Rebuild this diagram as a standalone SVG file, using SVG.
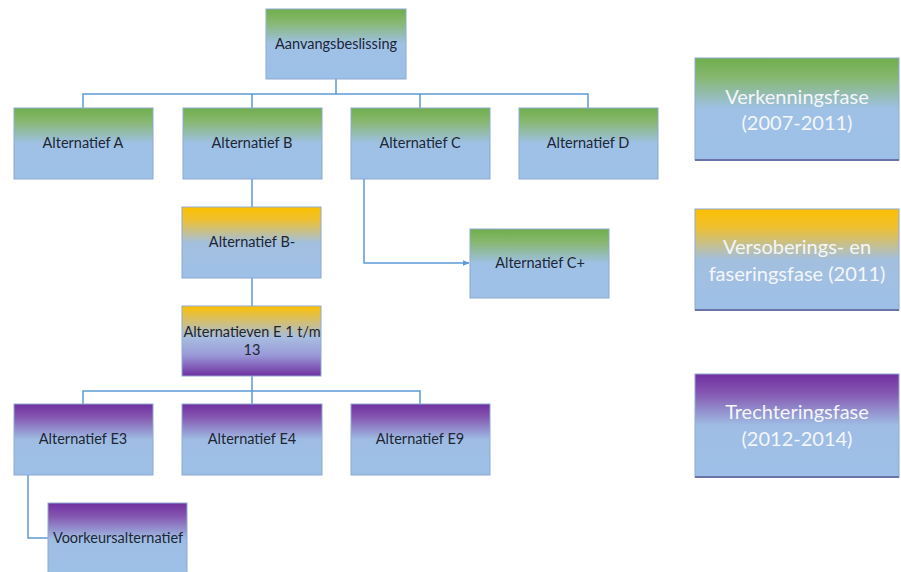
<svg xmlns="http://www.w3.org/2000/svg" width="901" height="572" viewBox="0 0 901 572">
<style>
.box{stroke:#8fa9cf;stroke-width:1}
.t{font-family:Lato,"Open Sans","Liberation Sans",sans-serif;font-size:14.5px;fill:#1d2633;text-anchor:middle}
.lt{font-family:Lato,"Open Sans","Liberation Sans",sans-serif;font-size:20px;fill:#f4f6fa;text-anchor:middle}
.c{fill:none;stroke:#5b9bd5;stroke-width:1.5}
.sh{stroke:#6a74a8;stroke-width:2}
</style>
<defs>
<linearGradient id="g" x1="0" y1="0" x2="0" y2="1">
<stop offset="0" stop-color="#6fae4c"/><stop offset="0.18" stop-color="#86b76d"/><stop offset="0.5" stop-color="#9fc1e6"/><stop offset="1" stop-color="#9dc0e8"/>
</linearGradient>
<linearGradient id="o" x1="0" y1="0" x2="0" y2="1">
<stop offset="0" stop-color="#fcc000"/><stop offset="0.18" stop-color="#eec030"/><stop offset="0.5" stop-color="#a3bfde"/><stop offset="1" stop-color="#9dc0e8"/>
</linearGradient>
<linearGradient id="p" x1="0" y1="0" x2="0" y2="1">
<stop offset="0" stop-color="#7030a0"/><stop offset="0.18" stop-color="#8455b0"/><stop offset="0.5" stop-color="#9fbde4"/><stop offset="1" stop-color="#9dc0e8"/>
</linearGradient>
<linearGradient id="op" x1="0" y1="0" x2="0" y2="1">
<stop offset="0" stop-color="#fcc000"/><stop offset="0.12" stop-color="#e6c040"/><stop offset="0.45" stop-color="#a8bde0"/><stop offset="0.7" stop-color="#9a9ad8"/><stop offset="1" stop-color="#7030a0"/>
</linearGradient>
<marker id="arr" viewBox="0 0 10 10" refX="9" refY="5" markerWidth="7" markerHeight="7" orient="auto" markerUnits="userSpaceOnUse">
<path d="M0,1 L10,5 L0,9 z" fill="#5b9bd5"/>
</marker>
</defs>
<g id="connectors">
<path class="c" d="M336,79 V94 M83,108 V94 H588 V108 M252,94 V108 M420,94 V108"/>
<path class="c" d="M252,179 V207 M252,278 V306"/>
<path class="c" d="M364,179 V263 H469" marker-end="url(#arr)"/>
<path class="c" d="M252,376 V391 M83,404 V391 H420 V404 M252,391 V404"/>
<path class="c" d="M28,475 V538 H48"/>
</g>
<g id="n-aanvang"><rect class="box" x="266" y="9" width="140" height="70" fill="url(#g)"/><text class="t" x="336" y="49">Aanvangsbeslissing</text></g>
<g id="n-a"><rect class="box" x="14" y="108" width="139" height="71" fill="url(#g)"/><text class="t" x="83" y="148">Alternatief A</text></g>
<g id="n-b"><rect class="box" x="183" y="108" width="139" height="71" fill="url(#g)"/><text class="t" x="252" y="148">Alternatief B</text></g>
<g id="n-c"><rect class="box" x="351" y="108" width="139" height="71" fill="url(#g)"/><text class="t" x="420" y="148">Alternatief C</text></g>
<g id="n-d"><rect class="box" x="519" y="108" width="139" height="71" fill="url(#g)"/><text class="t" x="588" y="148">Alternatief D</text></g>
<g id="n-bmin"><rect class="box" x="182" y="207" width="139" height="71" fill="url(#o)"/><text class="t" x="252" y="247">Alternatief B-</text></g>
<g id="n-cplus"><rect class="box" x="470" y="229" width="139" height="69" fill="url(#g)"/><text class="t" x="540" y="268">Alternatief C+</text></g>
<g id="n-e113"><rect class="box" x="182" y="306" width="139" height="70" fill="url(#op)"/><text class="t" x="252" y="337">Alternatieven E 1 t/m</text><text class="t" x="252" y="355">13</text></g>
<g id="n-e3"><rect class="box" x="14" y="404" width="139" height="71" fill="url(#p)"/><text class="t" x="83" y="444">Alternatief E3</text></g>
<g id="n-e4"><rect class="box" x="182" y="404" width="140" height="71" fill="url(#p)"/><text class="t" x="252" y="444">Alternatief E4</text></g>
<g id="n-e9"><rect class="box" x="351" y="404" width="139" height="71" fill="url(#p)"/><text class="t" x="420" y="444">Alternatief E9</text></g>
<g id="n-voork"><rect class="box" x="48" y="503" width="139" height="72" fill="url(#p)"/><text class="t" x="118" y="543">Voorkeursalternatief</text></g>
<g id="legend-verkenning"><rect class="box" x="695" y="58" width="204" height="102" fill="url(#g)"/><line class="sh" x1="695" y1="160" x2="899" y2="160"/><text class="lt" x="797" y="104">Verkenningsfase</text><text class="lt" x="797" y="130">(2007-2011)</text></g>
<g id="legend-versobering"><rect class="box" x="695" y="209" width="204" height="101" fill="url(#o)"/><line class="sh" x1="695" y1="310" x2="899" y2="310"/><text class="lt" x="797" y="254">Versoberings- en</text><text class="lt" x="797" y="281">faseringsfase (2011)</text></g>
<g id="legend-trechtering"><rect class="box" x="695" y="374" width="204" height="103" fill="url(#p)"/><line class="sh" x1="695" y1="477" x2="899" y2="477"/><text class="lt" x="797" y="419">Trechteringsfase</text><text class="lt" x="797" y="446">(2012-2014)</text></g>
</svg>
